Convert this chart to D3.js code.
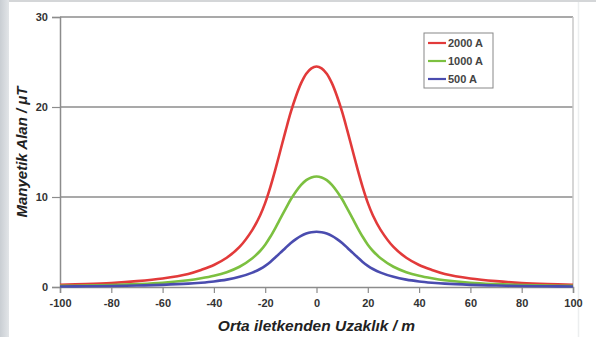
<!DOCTYPE html>
<html><head><meta charset="utf-8">
<script src="https://cdn.jsdelivr.net/npm/d3@7"></script>
<style>
body{margin:0;background:#fff;}
svg{display:block;}
</style></head>
<body>
<svg id="chart" width="596" height="337"></svg>
<script>
const distances = [-100,-90,-80,-70,-60,-50,-45,-40,-35,-30,-25,-22,-20,-18,-16,-14,-12,-10,-8,-6,-4,-2,0,2,4,6,8,10,12,14,16,18,20,22,25,30,35,40,45,50,60,70,80,90,100];
const red2000 = [0.25,0.33,0.45,0.65,0.95,1.45,1.9,2.45,3.25,4.45,6.35,7.95,9.35,11.1,13.1,15.25,17.4,19.45,21.2,22.65,23.7,24.3,24.5,24.3,23.7,22.65,21.2,19.45,17.4,15.25,13.1,11.1,9.35,7.95,6.35,4.45,3.25,2.45,1.9,1.45,0.95,0.65,0.45,0.33,0.25];
const green1000 = [0.12,0.16,0.22,0.32,0.47,0.75,0.97,1.25,1.65,2.25,3.2,4.0,4.7,5.58,6.58,7.65,8.72,9.75,10.62,11.35,11.87,12.17,12.27,12.17,11.87,11.35,10.62,9.75,8.72,7.65,6.58,5.58,4.7,4.0,3.2,2.25,1.65,1.25,0.97,0.75,0.47,0.32,0.22,0.16,0.12];
const blue500 = [0.06,0.08,0.11,0.16,0.24,0.37,0.48,0.62,0.82,1.13,1.6,2.0,2.35,2.79,3.3,3.83,4.37,4.88,5.32,5.68,5.94,6.09,6.14,6.09,5.94,5.68,5.32,4.88,4.37,3.83,3.3,2.79,2.35,2.0,1.6,1.13,0.82,0.62,0.48,0.37,0.24,0.16,0.11,0.08,0.06];
const seriesNames = ["2000 A","1000 A","500 A"];
const xTicks = [-100,-80,-60,-40,-20,0,20,40,60,80,100];
const yTicks = [0,10,20,30];
const xTitle = "Orta iletkenden Uzaklık / m";
const yTitle = "Manyetik Alan / μT";

const colors = ["#e23a3a","#7cc040","#4a4caf"];
const series = [red2000, green1000, blue500];

const svg = d3.select("#chart");
// frame decorations
const grad = svg.append("defs").append("linearGradient").attr("id","lg").attr("x1",0).attr("x2",1);
grad.append("stop").attr("offset",0).attr("stop-color","#c9ced3");
grad.append("stop").attr("offset",1).attr("stop-color","#e2e5e8");
svg.append("rect").attr("x",0).attr("y",0).attr("width",9).attr("height",337).attr("fill","url(#lg)");
svg.append("rect").attr("x",9).attr("y",0).attr("width",587).attr("height",2).attr("fill","#d4d6d8");
svg.append("line").attr("x1",578.5).attr("x2",578.5).attr("y1",2).attr("y2",337).attr("stroke","#eceeef").attr("stroke-width",1.5);

const x = d3.scaleLinear().domain([-100,100]).range([60,573]);
const y = d3.scaleLinear().domain([0,30]).range([287,17]);

// gridlines
svg.append("g").selectAll("line").data(yTicks.filter(d=>d>0)).join("line")
  .attr("x1",x(-100)).attr("x2",x(100)).attr("y1",d=>y(d)).attr("y2",d=>y(d))
  .attr("stroke","#8c8c8c").attr("stroke-width",1.5);
// right border
svg.append("line").attr("x1",x(100)).attr("x2",x(100)).attr("y1",y(30)).attr("y2",y(0))
  .attr("stroke","#c8c8c8").attr("stroke-width",1.5);

// axes
const yAxis = d3.axisLeft(y).tickValues(yTicks).tickFormat(d=>String(d)).tickSize(8).tickPadding(4);
const gy = svg.append("g").attr("transform",`translate(${x(-100)},0)`).call(yAxis);
const xAxis = d3.axisBottom(x).tickValues(xTicks).tickFormat(d=>String(d)).tickSize(6).tickPadding(6);
const gx = svg.append("g").attr("transform",`translate(0,${y(0)})`).call(xAxis);
[gx,gy].forEach(g=>{
  g.select(".domain").attr("stroke","#8c8c8c").attr("stroke-width",1.5);
  g.selectAll(".tick line").attr("stroke","#8c8c8c").attr("stroke-width",1.2);
  g.selectAll(".tick text").attr("font-family","Liberation Sans, Arial, sans-serif")
    .attr("font-size",11).attr("font-weight","bold").attr("fill","#333");
});
gy.selectAll(".tick text").attr("dy","0.36em");

// lines
const line = d3.line().x((d,i)=>x(distances[i])).y(d=>y(d)).curve(d3.curveCatmullRom.alpha(0.5));
svg.append("g").selectAll("path").data(series).join("path")
  .attr("d",d=>line(d)).attr("fill","none")
  .attr("stroke",(d,i)=>colors[i]).attr("stroke-width",2.6).attr("stroke-linejoin","round");

// legend
const lg = svg.append("g").attr("transform","translate(424,33)");
lg.append("rect").attr("x",0).attr("y",0).attr("width",69).attr("height",55)
  .attr("fill","#fff").attr("stroke","#888").attr("stroke-width",1);
seriesNames.forEach((n,i)=>{
  const yy = 10 + i*18;
  lg.append("line").attr("x1",4).attr("x2",22).attr("y1",yy).attr("y2",yy)
    .attr("stroke",colors[i]).attr("stroke-width",2.2);
  lg.append("text").attr("x",24).attr("y",yy).attr("dy","0.36em")
    .attr("font-family","Liberation Sans, Arial, sans-serif").attr("font-size",11)
    .attr("font-weight","bold").attr("fill","#444").text(n);
});

// titles
svg.append("text").attr("x",x(0)).attr("y",331).attr("text-anchor","middle")
  .attr("font-family","Liberation Sans, Arial, sans-serif").attr("font-size",15.5)
  .attr("font-weight","bold").attr("font-style","italic").attr("fill","#222").text(xTitle);
svg.append("text").attr("transform",`translate(27,${y(15)}) rotate(-90)`).attr("text-anchor","middle")
  .attr("font-family","Liberation Sans, Arial, sans-serif").attr("font-size",15)
  .attr("font-weight","bold").attr("font-style","italic").attr("fill","#222").text(yTitle);
</script>
</body></html>
